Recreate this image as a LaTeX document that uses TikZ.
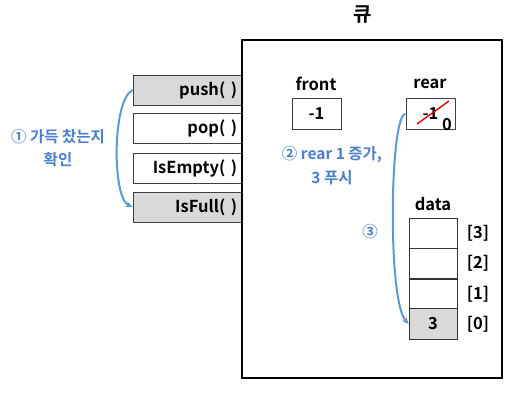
\documentclass[tikz,border=0pt]{standalone}
\usepackage{fontspec}
\setmainfont{Noto Sans CJK KR}[BoldFont={Noto Sans CJK KR Bold}]
\usetikzlibrary{arrows.meta}
\definecolor{cellgray}{HTML}{D9D9D9}
\definecolor{arrowblue}{HTML}{5B9BD5}
\definecolor{labelblue}{HTML}{4A7FCB}
\begin{document}
\begin{tikzpicture}[x=1pt,y=-1pt,
  font=\fontsize{16.5}{18}\selectfont\bfseries,
  method/.style={draw=black!75,line width=0.8pt,minimum width=108pt,minimum height=30pt,
    text width=100pt,align=right,inner xsep=4pt,inner ysep=0pt},
  valbox/.style={draw=black!75,line width=0.8pt,minimum width=49pt,minimum height=31pt,inner sep=0pt},
  cell/.style={draw=black!80,line width=0.8pt,minimum width=48pt,minimum height=30.25pt,inner sep=0pt},
  lbl/.style={inner sep=0pt},
  bluetxt/.style={inner sep=0pt,text=labelblue,font=\fontsize{15.5}{17}\selectfont\bfseries},
  flow/.style={draw=arrowblue,line width=2pt,-{Stealth[length=7pt,width=6pt]}}]
\useasboundingbox (0,0) rectangle (527,394);
% left method boxes
\node[method,fill=cellgray] (push) at (187,90) {push( )};
\node[method] (pop) at (187,128.5) {pop( )};
\node[method] (isempty) at (187,168) {IsEmpty( )};
\node[method,fill=cellgray] (isfull) at (187,207) {IsFull( )};
% queue box
\node[draw=black,line width=2.2pt,minimum width=260pt,minimum height=338pt,inner sep=0pt] (queue) at (372,209) {};
\node[lbl,font=\fontsize{20}{22}\selectfont\bfseries] (title) at (363,15) {큐};
% front / rear
\node[lbl] (frontlbl) at (316,84) {front};
\node[valbox] (front) at (316.5,114) {-1};
\node[lbl] (rearlbl) at (430,84) {rear};
\node[valbox] (rear) at (430.5,114) {-1};
\coordinate (s1) at (417,124);
\coordinate (s2) at (449,101);
\draw[red!85!black,line width=1.4pt] (s1) -- (s2);
\node[lbl] (zero) at (447,125) {0};
% labels
\node[bluetxt] (l1a) at (58,137) {① 가득 찼는지};
\node[bluetxt] (l1b) at (58,160) {확인};
\node[bluetxt] (l2a) at (332,155) {② rear 1 증가,};
\node[bluetxt] (l2b) at (332,178) {3 푸시};
\node[bluetxt] (l3) at (370,232) {③};
% data
\node[lbl] (datalbl) at (433,204) {data};
\node[cell] (d3) at (433,233.5) {};
\node[cell] (d2) at (433,264) {};
\node[cell] (d1) at (433,294) {};
\node[cell,fill=cellgray] (d0) at (433,324) {3};
\node[lbl] (i3) at (478,233) {[3]};
\node[lbl] (i2) at (478,263) {[2]};
\node[lbl] (i1) at (478,294) {[1]};
\node[lbl] (i0) at (478,324) {[0]};
% arrows
\draw[flow] (push.west) .. controls (112,100) and (112,198) .. (isfull.west);
\draw[flow] (rear.west) .. controls (390,112) and (387,300) .. (d0.west);
\end{tikzpicture}
\end{document}
